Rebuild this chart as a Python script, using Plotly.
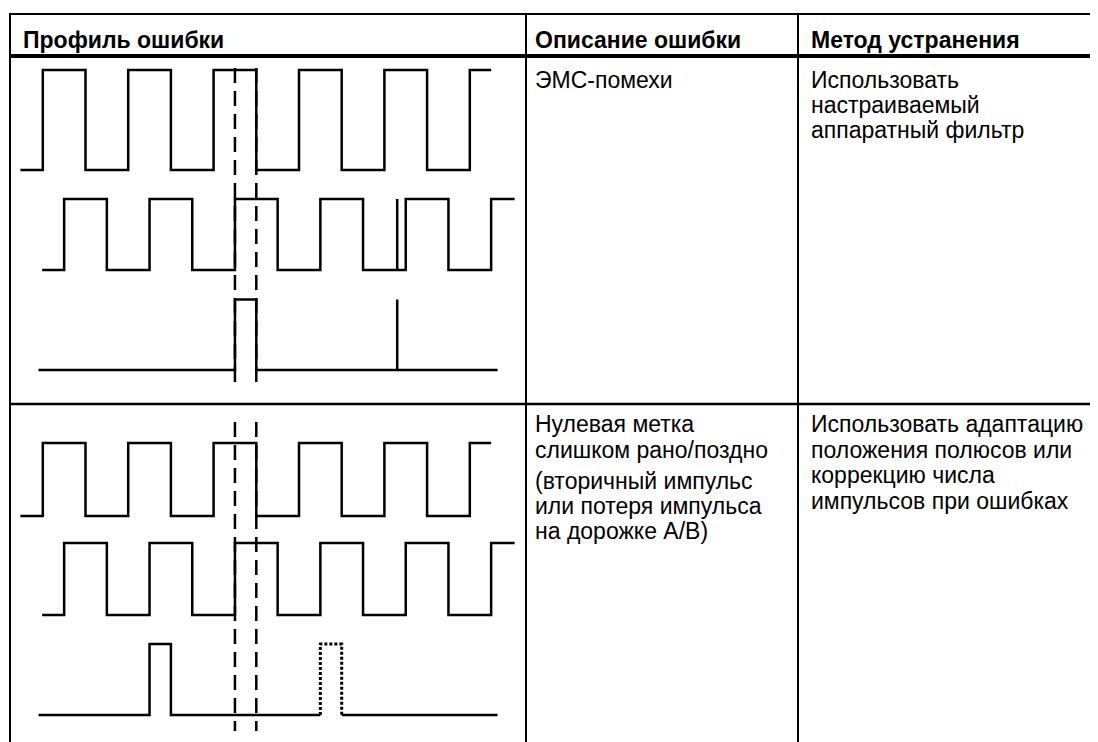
import plotly.graph_objects as go

W, H = 1098, 742          # browser window
OFF = 8                   # default <body> margin of the page

# ---------------- table text ----------------
headers = ["Профиль ошибки", "Описание ошибки", "Метод устранения"]
row1_desc = ["ЭМС-помехи"]
row1_fix = ["Использовать", "настраиваемый", "аппаратный фильтр"]
row2_desc = ["Нулевая метка", "слишком рано/поздно", "(вторичный импульс",
             "или потеря импульса", "на дорожке A/B)"]
row2_fix = ["Использовать адаптацию", "положения полюсов или",
            "коррекцию числа", "импульсов при ошибках"]

# ---------------- waveform data (time in half-periods; every edge toggles level) ----------------
A_start, A_end = 0.475, 11.5
A_edges = [1, 2, 3, 4, 5, 6, 7, 8, 9, 10, 11]

B_start, B_end = 0.985, 12.05
B1_edges = [1.5, 2.5, 3.5, 4.5, 5.5, 6.5, 7.5, 8.5, 9.3, 9.3, 9.5, 10.5, 11.5]   # glitch at 9.3
B2_edges = [1.5, 2.5, 3.5, 4.5, 5.5, 6.5, 7.5, 8.5, 9.5, 10.5, 11.5]

N_start, N_end = 0.9, 11.65
N1_edges = [5.5, 6.0, 9.3, 9.3]            # zero mark + EMC spike
N2_edges = [3.5, 4.0]                        # zero mark too early
N2_gap = [7.5, 8.0]                          # expected (missing) zero mark, dotted
marker_t = [5.5, 6.0]                        # dashed reference window

# ---------------- layout constants (window pixels) ----------------
T_PX, X0 = 42.7, 0.1
FS = 23
FONT = "Liberation Sans, Arial, sans-serif"
LW = 2.5
LV1 = {"A": (70, 170), "B": (199, 270), "N": (299.5, 370)}
LV2 = {"A": (443, 516), "B": (543, 615), "N": (644, 715)}
DASH1 = (68, 386)
DASH2 = (422, 731)
FW, FH = W - OFF, H - OFF


def step(t0, t1, edges, lvl=0):
    xs, ys = [t0], [lvl]
    for e in edges:
        xs += [e, e]
        ys += [lvl, 1 - lvl]
        lvl = 1 - lvl
    xs.append(t1)
    ys.append(lvl)
    return xs, ys


def to_px(levels, hl):
    hi, lo = hl
    return [lo - v * (lo - hi) for v in levels]


fig = go.Figure()


def add_line(xs, ys, dash=None, width=LW):
    fig.add_trace(go.Scatter(
        x=xs, y=ys, mode="lines", hoverinfo="skip",
        line=dict(color="black", width=width, dash=dash)))


# Row 1
xs, ys = step(A_start, A_end, A_edges); add_line(xs, to_px(ys, LV1["A"]))
xs, ys = step(B_start, B_end, B1_edges); add_line(xs, to_px(ys, LV1["B"]))
xs, ys = step(N_start, N_end, N1_edges); add_line(xs, to_px(ys, LV1["N"]))
for t in marker_t:
    add_line([t, t], list(DASH1), dash="15px,8px")

# Row 2
xs, ys = step(A_start, A_end, A_edges); add_line(xs, to_px(ys, LV2["A"]))
xs, ys = step(B_start, B_end, B2_edges); add_line(xs, to_px(ys, LV2["B"]))
xs, ys = step(N_start, N2_gap[0], N2_edges); add_line(xs, to_px(ys, LV2["N"]))
xs, ys = step(N2_gap[1], N_end, []); add_line(xs, to_px(ys, LV2["N"]))
xs, ys = step(N2_gap[0], N2_gap[1], N2_gap)
add_line(xs, to_px(ys, LV2["N"]), dash="3px,2px", width=3)
for t in marker_t:
    add_line([t, t], list(DASH2), dash="15px,8px")

# ---------------- table grid ----------------
shapes = []


def px_x(x):
    return (x - OFF) / FW


def px_y(y):
    return 1 - (y - OFF) / FH


def hline(y, x0, x1, w):
    shapes.append(dict(type="line", xref="paper", yref="paper",
                       x0=px_x(x0), x1=px_x(x1), y0=px_y(y), y1=px_y(y),
                       line=dict(color="black", width=w)))


def vline(x, y0, y1, w):
    shapes.append(dict(type="line", xref="paper", yref="paper",
                       x0=px_x(x), x1=px_x(x), y0=px_y(y0), y1=px_y(y1),
                       line=dict(color="black", width=w)))


hline(14, 9, W, 2)
hline(56, 9, W, 4)
hline(404, 9, W, 2.5)
for xv in (10, 526, 798):
    vline(xv, 13, H, 2)

# ---------------- text ----------------
annotations = []


def txt(s, x, baseline, bold=False):
    annotations.append(dict(
        text=f"<b>{s}</b>" if bold else s, xref="paper", yref="paper",
        x=px_x(x), y=px_y(baseline - 0.34 * FS),
        xanchor="left", yanchor="middle", showarrow=False,
        font=dict(family=FONT, size=FS, color="black")))


COLX = [21, 533, 809]
for s, x in zip(headers, COLX):
    txt(s, x, 47.5, bold=True)

for i, s in enumerate(row1_desc):
    txt(s, COLX[1], 87.5 + 25 * i)
for i, s in enumerate(row1_fix):
    txt(s, COLX[2], 87.5 + 25 * i)

r2_desc_base = [432, 457.5, 489, 514, 539]
for s, b in zip(row2_desc, r2_desc_base):
    txt(s, COLX[1], b)
for i, s in enumerate(row2_fix):
    txt(s, COLX[2], 432 + 25.5 * i)

fig.update_layout(
    width=FW, height=FH,
    margin=dict(l=0, r=0, t=0, b=0, autoexpand=False),
    paper_bgcolor="white", plot_bgcolor="white",
    showlegend=False,
    xaxis=dict(range=[(OFF - X0) / T_PX, (W - X0) / T_PX], visible=False, fixedrange=True),
    yaxis=dict(range=[H, OFF], visible=False, fixedrange=True),
    shapes=shapes, annotations=annotations,
)

fig.write_html("out.html")
